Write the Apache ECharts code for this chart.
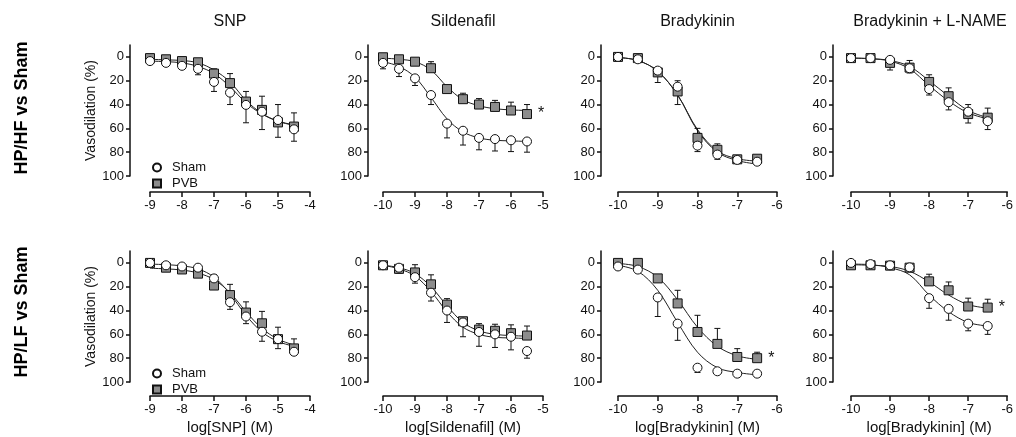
<!DOCTYPE html>
<html><head><meta charset="utf-8">
<script src="https://cdn.jsdelivr.net/npm/echarts@6/dist/echarts.min.js"></script>
<style>html,body{margin:0;padding:0;background:#fff}#c{width:1016px;height:437px}</style>
</head><body><div id="c"></div>
<script>
// ---------- text ----------
const panelTitles = ['SNP', 'Sildenafil', 'Bradykinin', 'Bradykinin + L-NAME'];
const rowLabels = ['HP/HF vs Sham', 'HP/LF vs Sham'];
const xAxisNames = ['log[SNP] (M)', 'log[Sildenafil] (M)', 'log[Bradykinin] (M)', 'log[Bradykinin] (M)'];
const yAxisName = 'Vasodilation (%)';
const seriesNames = ['Sham', 'PVB'];

// ---------- axes ----------
const xMins = [-9, -10, -10, -10];
const xMaxs = [-4, -5, -6, -6];
const yTicks = [0, 20, 40, 60, 80, 100];

// ---------- doses (log M) ----------
const doseSNP = [-9, -8.5, -8, -7.5, -7, -6.5, -6, -5.5, -5, -4.5];
const doseSild = [-10, -9.5, -9, -8.5, -8, -7.5, -7, -6.5, -6, -5.5];
const doseBK = [-10, -9.5, -9, -8.5, -8, -7.5, -7, -6.5];

// ---------- HP/HF vs Sham ----------
const snpHF_shamMean = [3.5, 5, 7.5, 10, 21, 30, 40.3, 46, 53, 60.8];
const snpHF_shamErr  = [1, 1, 2, 5, 8, 10, 15, 15, 14.5, 10];
const snpHF_shamFit  = [3.5, 4, 5, 8, 14, 25, 38.5, 48, 54, 57];
const snpHF_pvbMean  = [1, 2, 3.5, 4.5, 14, 22, 37.5, 44.5, 55, 58.5];
const snpHF_pvbErr   = [0.5, 1, 1, 1, 4, 8, 8.5, 11.5, 15, 11.5];
const snpHF_pvbFit   = [2, 2.5, 3, 5, 11, 21, 36.5, 47.5, 54, 57.5];

const sildHF_shamMean = [5, 10, 18, 32, 56, 62, 68, 69, 70, 71];
const sildHF_shamErr  = [5, 6.5, 6, 8, 12, 12, 10, 10, 9.5, 9];
const sildHF_shamFit  = [4, 8, 17, 34, 52, 63, 68, 70, 70.5, 71];
const sildHF_pvbMean  = [0.3, 2, 4, 9.5, 27, 35.5, 40, 42, 45, 48];
const sildHF_pvbErr   = [0.5, 1, 1.5, 5.5, 2, 5, 5, 5.5, 7, 8];
const sildHF_pvbFit   = [1, 2, 4, 11, 25, 36, 41, 43.5, 44.5, 45];

const bkHF_shamMean = [0, 2, 11.5, 25, 74.5, 82, 86.5, 88];
const bkHF_shamErr  = [1, 1, 10, 15, 5, 4, 1.5, 1.5];
const bkHF_shamFit  = [0.5, 3, 12, 32, 62, 80, 87, 90];
const bkHF_pvbMean  = [0, 1, 13, 29, 68, 78, 86, 85.5];
const bkHF_pvbErr   = [0.5, 0.5, 1, 9, 8, 5, 1, 1];
const bkHF_pvbFit   = [0.5, 3, 12, 32, 61, 79, 85.5, 87.5];

const lnHF_shamMean = [1, 1, 2.5, 9.5, 27, 38, 46, 54];
const lnHF_shamErr  = [0.5, 0.5, 8.5, 4, 5, 6.5, 9.5, 7];
const lnHF_shamFit  = [1, 1.5, 3.5, 10, 24, 37, 47, 52];
const lnHF_pvbMean  = [1, 1, 5, 9, 21, 33, 48, 51];
const lnHF_pvbErr   = [0.5, 0.5, 1, 6, 6, 7, 8, 8];
const lnHF_pvbFit   = [1, 1.5, 3, 8, 20, 33, 45, 51];

// ---------- HP/LF vs Sham ----------
const snpLF_shamMean = [0, 2, 3, 4, 13, 33, 45, 57.8, 64, 74.6];
const snpLF_shamErr  = [0.5, 1, 1, 1, 3, 6, 6, 8, 8, 3];
const snpLF_shamFit  = [1, 1.5, 2.5, 5, 12, 26, 44, 58, 66, 70];
const snpLF_pvbMean  = [0, 4, 5.5, 9, 19, 27, 41.7, 50.7, 64, 71.8];
const snpLF_pvbErr   = [0.5, 1, 4, 5, 9, 9, 9, 10, 10, 8];
const snpLF_pvbFit   = [4.5, 5, 6, 8.5, 14, 25, 41, 55, 64, 69];

const sildLF_shamMean = [2, 4, 12, 25, 40, 50, 58, 60, 62, 74];
const sildLF_shamErr  = [1, 4.5, 5, 7, 10, 12, 12, 11, 11, 6];
const sildLF_shamFit  = [2, 5, 11, 24, 41, 54, 60, 62.5, 63, 63.5];
const sildLF_pvbMean  = [2, 5, 8, 18, 35, 49, 56, 57, 59, 61];
const sildLF_pvbErr   = [1, 1, 6.5, 8, 5, 2, 5, 5.5, 7, 8];
const sildLF_pvbFit   = [2, 4, 9, 20, 36, 50, 57, 60, 61, 61.5];

const bkLF_shamMean = [3, 5.6, 29, 51, 88, 91, 93, 93];
const bkLF_shamErr  = [1, 1, 16, 14, 4, 1, 1, 1];
const bkLF_shamFit  = [2, 7, 23, 50, 75, 88, 92, 94];
const bkLF_pvbMean  = [0, 0, 13, 34, 58, 68, 79, 80];
const bkLF_pvbErr   = [0.5, 0.5, 3, 11, 14, 13, 7, 5];
const bkLF_pvbFit   = [0.5, 3, 12, 31, 54, 70, 78, 81];

const lnLF_shamMean = [0, 1, 2, 3.7, 29.6, 38.6, 51, 53];
const lnLF_shamErr  = [0.5, 0.5, 0.5, 1, 8.5, 9.5, 6, 7];
const lnLF_shamFit  = [1, 1.5, 4, 10, 27, 41, 50, 53];
const lnLF_pvbMean  = [2, 2, 2.3, 4, 15.5, 23, 36.6, 37.5];
const lnLF_pvbErr   = [0.5, 0.5, 0.5, 1, 6, 7, 7, 7];
const lnLF_pvbFit   = [1.5, 2, 3, 7, 16, 27, 35, 38];

// significance (asterisk on PVB end point)
const significant = [false, true, false, false, false, false, true, true];

// ---------- panel assembly ----------
const panels = [
  [doseSNP, snpHF_shamMean, snpHF_shamErr, snpHF_shamFit, snpHF_pvbMean, snpHF_pvbErr, snpHF_pvbFit],
  [doseSild, sildHF_shamMean, sildHF_shamErr, sildHF_shamFit, sildHF_pvbMean, sildHF_pvbErr, sildHF_pvbFit],
  [doseBK, bkHF_shamMean, bkHF_shamErr, bkHF_shamFit, bkHF_pvbMean, bkHF_pvbErr, bkHF_pvbFit],
  [doseBK, lnHF_shamMean, lnHF_shamErr, lnHF_shamFit, lnHF_pvbMean, lnHF_pvbErr, lnHF_pvbFit],
  [doseSNP, snpLF_shamMean, snpLF_shamErr, snpLF_shamFit, snpLF_pvbMean, snpLF_pvbErr, snpLF_pvbFit],
  [doseSild, sildLF_shamMean, sildLF_shamErr, sildLF_shamFit, sildLF_pvbMean, sildLF_pvbErr, sildLF_pvbFit],
  [doseBK, bkLF_shamMean, bkLF_shamErr, bkLF_shamFit, bkLF_pvbMean, bkLF_pvbErr, bkLF_pvbFit],
  [doseBK, lnLF_shamMean, lnLF_shamErr, lnLF_shamFit, lnLF_pvbMean, lnLF_pvbErr, lnLF_pvbFit]
];

// ---------- layout ----------
const FONT = '"Liberation Sans", Arial, sans-serif';
const INK = '#111';
const colLeft = [150, 383, 618, 851];
const colWidth = [160, 160, 159, 158];
const yOffset = [20, 15, 17, 18];
const rowTop = [45, 251];
const gridH = 131;
const xOffset = [16, 14];

const grids = [], xAxes = [], yAxes = [], series = [];

function errBar(dir) {
  return function (params, api) {
    const x = api.value(0), y = api.value(1), e = api.value(2);
    const p0 = api.coord([x, y]);
    const p1 = api.coord([x, y + dir * e]);
    return {
      type: 'group',
      children: [
        { type: 'line', shape: { x1: p0[0], y1: p0[1], x2: p1[0], y2: p1[1] }, style: { stroke: INK, lineWidth: 1 } },
        { type: 'line', shape: { x1: p1[0] - 3, y1: p1[1], x2: p1[0] + 3, y2: p1[1] }, style: { stroke: INK, lineWidth: 1 } }
      ]
    };
  };
}

for (let r = 0; r < 2; r++) {
  for (let c = 0; c < 4; c++) {
    const i = r * 4 + c;
    grids.push({ left: colLeft[c], width: colWidth[c], top: rowTop[r], height: gridH });
    xAxes.push({
      gridIndex: i, type: 'value', min: xMins[c], max: xMaxs[c], interval: 1,
      position: 'bottom', offset: xOffset[r],
      axisLine: { show: true, onZero: false, lineStyle: { color: INK, width: 1.5 } },
      axisTick: { show: true, length: 5, lineStyle: { color: INK, width: 1.5 } },
      axisLabel: { color: INK, fontSize: 13, margin: 7, fontFamily: FONT },
      splitLine: { show: false },
      name: r === 1 ? xAxisNames[c] : '', nameLocation: 'middle', nameGap: 24,
      nameTextStyle: { fontSize: 15, color: INK, fontFamily: FONT }
    });
    yAxes.push({
      gridIndex: i, type: 'value', inverse: true, min: -10, max: 100,
      position: 'left', offset: yOffset[c],
      axisLine: { show: true, onZero: false, lineStyle: { color: INK, width: 1.5 } },
      axisTick: { show: true, length: 4, customValues: yTicks, lineStyle: { color: INK, width: 1.5 } },
      axisLabel: { customValues: yTicks, color: INK, fontSize: 13, margin: 6, fontFamily: FONT },
      splitLine: { show: false },
      name: c === 0 ? yAxisName : '', nameLocation: 'middle', nameGap: 28,
      nameTextStyle: { fontSize: 14, color: INK, fontFamily: FONT }
    });

    const [dose, sM, sE, sF, pM, pE, pF] = panels[i];
    const zip = (a) => dose.map((d, k) => [d, a[k]]);
    const zip3 = (a, b) => dose.map((d, k) => [d, a[k], b[k]]);

    // fitted curves
    [sF, pF].forEach((f, k) => series.push({
      type: 'line', name: seriesNames[k] + ' fit', xAxisIndex: i, yAxisIndex: i,
      data: zip(f), smooth: 0.35, symbol: 'none', silent: true,
      lineStyle: { color: '#222', width: 1 }, z: 1, animation: false
    }));
    // error bars
    series.push({
      type: 'custom', name: 'PVB err', xAxisIndex: i, yAxisIndex: i, silent: true,
      data: zip3(pM, pE), renderItem: errBar(-1), encode: { x: 0, y: 1 }, z: 2, clip: false
    });
    series.push({
      type: 'custom', name: 'Sham err', xAxisIndex: i, yAxisIndex: i, silent: true,
      data: zip3(sM, sE), renderItem: errBar(1), encode: { x: 0, y: 1 }, z: 2, clip: false
    });
    // markers
    const pvbData = zip(pM).map((v, k) => (significant[i] && k === dose.length - 1)
      ? { value: v, label: { show: true, formatter: '*', position: 'right', distance: 6, fontSize: 16, color: INK, fontFamily: FONT } }
      : v);
    series.push({
      type: 'scatter', name: 'PVB', xAxisIndex: i, yAxisIndex: i, data: pvbData,
      symbol: 'rect', symbolSize: 9,
      itemStyle: { color: '#8c8c8c', borderColor: INK, borderWidth: 1, opacity: 1 }, z: 3
    });
    series.push({
      type: 'scatter', name: 'Sham', xAxisIndex: i, yAxisIndex: i, data: zip(sM),
      symbol: 'circle', symbolSize: 9,
      itemStyle: { color: '#fff', borderColor: INK, borderWidth: 1, opacity: 1 }, z: 4
    });
  }
}

const legendBase = {
  orient: 'vertical', left: 147, itemWidth: 8, itemHeight: 8, itemGap: 3,
  textStyle: { fontSize: 13, color: INK, fontFamily: FONT, padding: [0, 0, 0, 6] },
  data: [{ name: 'Sham', icon: 'circle' }, { name: 'PVB', icon: 'rect' }],
  selectedMode: false
};

const graphics = [];
panelTitles.forEach((t, c) => graphics.push({
  type: 'text', x: colLeft[c] + colWidth[c] / 2, y: 22,
  style: { text: t, font: '16px ' + FONT, fill: INK, align: 'center', verticalAlign: 'middle' }
}));
rowLabels.forEach((t, r) => graphics.push({
  type: 'text', x: 22, y: [108, 312][r], rotation: Math.PI / 2,
  style: { text: t, font: 'bold 18px ' + FONT, fill: '#000', align: 'center', verticalAlign: 'middle' }
}));

const chart = echarts.init(document.getElementById('c'), null, { renderer: 'canvas' });
chart.setOption({
  backgroundColor: '#fff',
  animation: false,
  grid: grids, xAxis: xAxes, yAxis: yAxes, series: series,
  legend: [Object.assign({ top: 156 }, legendBase), Object.assign({ top: 362 }, legendBase)],
  graphic: graphics
});
</script></body></html>
